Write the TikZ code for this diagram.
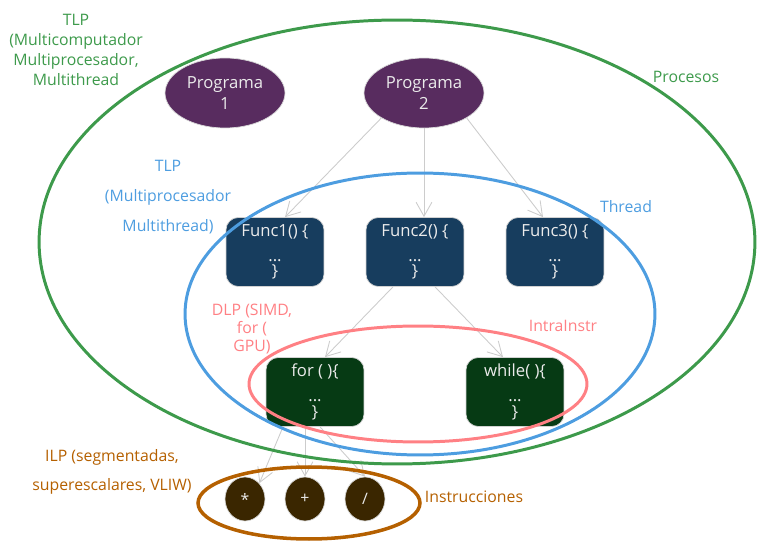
\documentclass[tikz,border=0pt]{standalone}
\usepackage{fontspec}
\setmainfont{Open Sans}
\usetikzlibrary{arrows.meta, shapes.geometric}
\definecolor{procgreen}{RGB}{61,154,75}
\definecolor{threadblue}{RGB}{77,157,224}
\definecolor{dlppink}{RGB}{255,128,132}
\definecolor{ilpbrown}{RGB}{181,96,0}
\definecolor{progfill}{RGB}{88,44,95}
\definecolor{funcfill}{RGB}{23,61,94}
\definecolor{loopfill}{RGB}{6,58,20}
\definecolor{opfill}{RGB}{58,38,0}
\definecolor{nodetext}{RGB}{235,235,235}
\tikzset{
  prog/.style={ellipse, fill=progfill, draw=gray!30, text=nodetext, minimum width=2.4cm, minimum height=1.4cm, align=center, inner sep=0pt, font=\fontsize{9.5}{11.5}\selectfont},
  codebox/.style={rectangle, rounded corners=7pt, draw=gray!35, text=nodetext, minimum width=1.96cm, minimum height=1.38cm, align=center, font=\fontsize{9.5}{11}\selectfont},
  opnode/.style={ellipse, fill=opfill, draw=gray!30, text=nodetext, minimum width=0.8cm, minimum height=0.88cm, inner sep=0pt, font=\small},
  link/.style={gray!40, line width=0.5pt, -{Straight Barb[length=8pt,width=9pt]}},
  region/.style={line width=1.7pt},
  lbl/.style={align=center, font=\fontsize{9}{#1}\selectfont},
  lbl/.default=11.4
}
\begin{document}
\begin{tikzpicture}[x=0.02cm, y=-0.02cm]
\useasboundingbox (0,0) rectangle (758,547);
% programs
\node[prog] (p1) at (225,93) {Programa\\1};
\node[prog] (p2) at (424,93) {Programa\\2};
% threads
\node[codebox, fill=funcfill] (f1) at (275,252) {Func1() \{\\[3pt]...\\[-2pt]\}};
\node[codebox, fill=funcfill] (f2) at (415,252) {Func2() \{\\[3pt]...\\[-2pt]\}};
\node[codebox, fill=funcfill] (f3) at (555,252) {Func3() \{\\[3pt]...\\[-2pt]\}};
% loops
\node[codebox, fill=loopfill] (forb) at (315,392) {for ( )\{\\[3pt]...\\[-2pt]\}};
\node[codebox, fill=loopfill] (whileb) at (515,392) {while( )\{\\[3pt]...\\[-2pt]\}};
% instructions
\node[opnode] (c1) at (245,499) {*};
\node[opnode] (c2) at (305,499) {+};
\node[opnode] (c3) at (365,499) {/};
% links
\draw[link] (p2.south west) -- ([xshift=0.2cm]f1.north);
\draw[link] (p2.south) -- (p2.south |- f2.north);
\draw[link] (p2.south east) -- ([xshift=-0.24cm]f3.north);
\draw[link] ([xshift=-0.44cm]f2.south) -- ([xshift=0.2cm]forb.north);
\draw[link] ([xshift=0.4cm]f2.south) -- ([xshift=-0.24cm]whileb.north);
\draw[link] ([xshift=-0.64cm]forb.south) -- (c1.north east);
\draw[link] (forb.south -| c2.north) -- (c2.north);
\draw[link] ([xshift=0.1cm]forb.south) -- (c3.north);
% regions
\draw[region, procgreen] (397,242) ellipse [x radius=7.16cm, y radius=4.44cm];
\draw[region, threadblue] (420,314) ellipse [x radius=4.7cm, y radius=2.82cm];
\draw[region, dlppink] (418,384) ellipse [x radius=3.38cm, y radius=1.16cm];
\draw[region, ilpbrown, line width=2pt] (309,503) ellipse [x radius=2.22cm, y radius=0.72cm];
% labels
\node[lbl, text=procgreen] (tlpext) at (76,50) {TLP\\(Multicomputador\\Multiprocesador,\\Multithread};
\node[lbl, text=procgreen] (procesos) at (686,77) {Procesos};
\node[lbl=17, text=threadblue] (tlpint) at (168,197) {TLP\\(Multiprocesador\\Multithread)};
\node[lbl, text=threadblue] (thread) at (626,207) {Thread};
\node[lbl=10, text=dlppink] (dlp) at (252,329) {DLP (SIMD,\\for (\\GPU)};
\node[lbl, text=dlppink] (intra) at (563,326) {IntraInstr};
\node[lbl=16.5, text=ilpbrown] (ilp) at (112,472) {ILP (segmentadas,\\superescalares, VLIW)};
\node[lbl, text=ilpbrown] (instr) at (474,497) {Instrucciones};
\end{tikzpicture}
\end{document}
